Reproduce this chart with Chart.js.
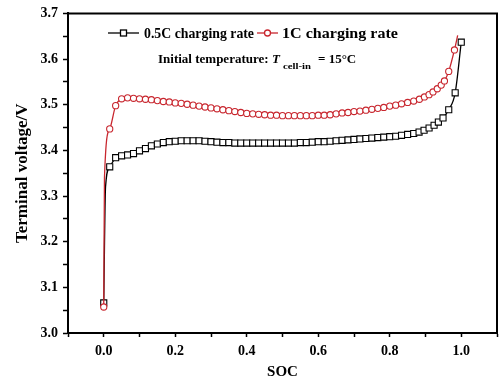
<!DOCTYPE html>
<html><head><meta charset="utf-8">
<script src="https://cdn.jsdelivr.net/npm/chart.js@4.4.1/dist/chart.umd.min.js"></script>
<style>html,body{margin:0;padding:0;background:#fff}#wrap{width:503px;height:381px}</style>
</head><body><div id="wrap"><canvas id="c" width="503" height="381"></canvas></div>
<script>
// ---- data ----
const socHalfC = [0,0.005,0.0167,0.0333,0.05,0.0667,0.0833,0.1,0.1167,0.1333,0.15,0.1667,0.1833,0.2,0.2167,0.2333,0.25,0.2667,0.2833,0.3,0.3167,0.3333,0.35,0.3667,0.3833,0.4,0.4167,0.4333,0.45,0.4667,0.4833,0.5,0.5167,0.5333,0.55,0.5667,0.5833,0.6,0.6167,0.6333,0.65,0.6667,0.6833,0.7,0.7167,0.7333,0.75,0.7667,0.7833,0.8,0.8167,0.833,0.85,0.867,0.882,0.896,0.91,0.924,0.936,0.949,0.965,0.983,1.0];
const voltHalfC = [3.066,3.32,3.364,3.384,3.388,3.390,3.393,3.399,3.404,3.410,3.414,3.417,3.419,3.420,3.421,3.421,3.421,3.421,3.420,3.419,3.418,3.417,3.417,3.416,3.416,3.416,3.416,3.416,3.416,3.416,3.416,3.416,3.416,3.416,3.417,3.417,3.418,3.419,3.419,3.420,3.421,3.422,3.423,3.424,3.425,3.426,3.427,3.428,3.429,3.430,3.431,3.433,3.435,3.437,3.440,3.444,3.449,3.455,3.462,3.471,3.489,3.526,3.637];
const soc1C = [0,0.002,0.0167,0.0333,0.05,0.0667,0.0833,0.1,0.1167,0.1333,0.15,0.1667,0.1833,0.2,0.2167,0.2333,0.25,0.2667,0.2833,0.3,0.3167,0.3333,0.35,0.3667,0.3833,0.4,0.4167,0.4333,0.45,0.4667,0.4833,0.5,0.5167,0.5333,0.55,0.5667,0.5833,0.6,0.6167,0.6333,0.65,0.6667,0.6833,0.7,0.7167,0.7333,0.75,0.7667,0.7833,0.8,0.8167,0.833,0.85,0.867,0.883,0.897,0.91,0.921,0.933,0.944,0.953,0.965,0.981,0.99];
const volt1C = [3.057,3.34,3.447,3.498,3.513,3.515,3.514,3.513,3.512,3.511,3.509,3.507,3.506,3.504,3.503,3.501,3.499,3.497,3.495,3.493,3.491,3.489,3.487,3.485,3.483,3.481,3.480,3.479,3.478,3.477,3.477,3.476,3.476,3.476,3.476,3.476,3.476,3.477,3.477,3.478,3.480,3.482,3.483,3.485,3.486,3.488,3.490,3.492,3.494,3.497,3.499,3.502,3.505,3.508,3.512,3.517,3.522,3.528,3.535,3.543,3.552,3.573,3.620,3.652];
const xTickLabels = ['0.0','0.2','0.4','0.6','0.8','1.0'];
const yTickLabels = ['3.0','3.1','3.2','3.3','3.4','3.5','3.6','3.7'];
const seriesNames = ['0.5C charging rate','1C charging rate'];
const xTitle = 'SOC';
const yTitle = 'Terminal voltage/V';
const annoMain = 'Initial temperature: ';
const annoSym = 'T';
const annoSub = 'cell-in';
const annoVal = '= 15\u00B0C';

const RED = '#c8262e';
const FONT = "'Liberation Serif','Times New Roman',serif";
Chart.defaults.font.family = FONT;
Chart.defaults.font.weight = 'bold';
Chart.defaults.color = '#000';

function pts(xs, ys){ return xs.map((x,i)=>({x:x, y:ys[i]})); }

function fitText(ctx, str, x, y, w){
  const m = ctx.measureText(str).width;
  ctx.save(); ctx.translate(x,y); ctx.scale(w/m,1); ctx.fillText(str,0,0); ctx.restore();
}

const framePlugin = {
  id:'frame',
  afterDraw(chart){
    const {ctx, chartArea:a} = chart;
    ctx.save();
    ctx.strokeStyle = '#000'; ctx.lineWidth = 2;
    ctx.beginPath();
    ctx.moveTo(a.left, a.top); ctx.lineTo(a.right, a.top); ctx.lineTo(a.right, a.bottom);
    ctx.stroke();
    // legend line 1
    ctx.textBaseline = 'middle'; ctx.textAlign = 'left'; ctx.fillStyle = '#000';
    ctx.font = 'bold 14px ' + FONT;
    let y = 33;
    ctx.lineWidth = 1.3;
    ctx.strokeStyle = '#000';
    ctx.beginPath(); ctx.moveTo(108,y); ctx.lineTo(139,y); ctx.stroke();
    ctx.fillStyle = '#fff'; ctx.fillRect(120.5,y-3,6,6);
    ctx.strokeRect(120.5,y-3,6,6);
    ctx.fillStyle = '#000';
    fitText(ctx, seriesNames[0], 144, y+1, 110);
    ctx.strokeStyle = RED;
    ctx.beginPath(); ctx.moveTo(257,y); ctx.lineTo(278,y); ctx.stroke();
    ctx.fillStyle = '#fff'; ctx.beginPath(); ctx.arc(267.5,y,3,0,Math.PI*2); ctx.fill(); ctx.stroke();
    ctx.fillStyle = '#000';
    fitText(ctx, seriesNames[1], 282, y+1, 116);
    // annotation line 2
    y = 60;
    ctx.font = 'bold 13px ' + FONT;
    ctx.fillText(annoMain, 158, y);
    ctx.font = 'italic bold 13px ' + FONT;
    ctx.fillText(annoSym, 272, y);
    ctx.font = 'bold 9px ' + FONT;
    fitText(ctx, annoSub, 283, y+7, 28);
    ctx.font = 'bold 13px ' + FONT;
    ctx.fillText(annoVal, 318, y);
    ctx.restore();
  }
};

new Chart(document.getElementById('c'), {
  type:'line',
  data:{ datasets:[
    { label:seriesNames[1], data:pts(soc1C, volt1C), borderColor:RED, borderWidth:1.3,
      pointStyle:'circle', pointRadius:ctx=>(ctx.dataIndex===soc1C.length-1||ctx.dataIndex===1)?0:3.1,
      pointBorderColor:RED, pointBackgroundColor:'#fff', pointBorderWidth:1.1,
      cubicInterpolationMode:'monotone', fill:false },
    { label:seriesNames[0], data:pts(socHalfC, voltHalfC), borderColor:'#000', borderWidth:1.3,
      pointStyle:'rect', pointRadius:ctx=>ctx.dataIndex===1?0:4.3,
      pointBorderColor:'#000', pointBackgroundColor:'#fff', pointBorderWidth:1.1,
      cubicInterpolationMode:'monotone', fill:false }
  ]},
  options:{
    responsive:false, animation:false,
    layout:{padding:{top:13,right:1,left:0,bottom:0}},
    plugins:{legend:{display:false}, tooltip:{enabled:false}},
    scales:{
      x:{ type:'linear', min:-0.1, max:1.1,
        afterFit:s=>{ s.height = 48; },
        border:{display:true, color:'#000', width:2},
        grid:{display:true, drawOnChartArea:false, tickLength:4, tickColor:'#000', tickWidth:1.5},
        ticks:{ stepSize:0.1, autoSkip:false, maxRotation:0, padding:6, font:{size:14, weight:'bold'}, color:'#000',
          callback:v=>{ const k=Math.round(v*10); return (k>=0 && k<=10 && k%2===0) ? xTickLabels[k/2] : ''; } },
        title:{display:true, text:xTitle, font:{size:15, weight:'bold'}, padding:{top:0,bottom:0}, color:'#000'}
      },
      y:{ type:'linear', min:3.0, max:3.7,
        afterFit:s=>{ s.width = 68; },
        border:{display:true, color:'#000', width:2},
        grid:{display:true, drawOnChartArea:false, tickLength:5, tickColor:'#000', tickWidth:1.5},
        ticks:{ stepSize:0.05, autoSkip:false, padding:5, font:{size:14, weight:'bold'}, color:'#000',
          callback:v=>{ const k=Math.round((v-3)*100); return (k%10===0) ? yTickLabels[k/10] : ''; } },
        title:{display:true, text:yTitle, font:{size:17, weight:'bold'}, padding:{top:12,bottom:0}, color:'#000'}
      }
    }
  },
  plugins:[framePlugin]
});
</script></body></html>
